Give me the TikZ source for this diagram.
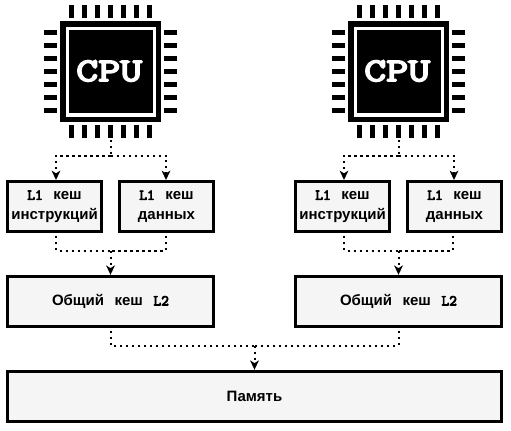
\documentclass[tikz,border=0pt]{standalone}
\usepackage{fontspec}
\setmainfont{Liberation Sans}
\newfontfamily\slab[FakeBold=5]{Latin Modern Mono}
\newfontfamily\slabcpu[FakeBold=4.5]{Latin Modern Mono}
\usetikzlibrary{arrows.meta}
\tikzset{x=0.75pt,y=-0.75pt,
 box/.style={draw=black,line width=2.25pt,fill=black!4,minimum height=37.5pt,inner sep=0pt,align=center,font=\fontsize{11.25pt}{14.5pt}\selectfont\bfseries},
 l1/.style={box,minimum width=70.5pt},
 l2/.style={box,minimum width=154.5pt},
 link/.style={draw=black,line width=1.5pt,dash pattern=on 1.7pt off 2.8pt},
 arr/.style={link,-{Stealth[length=7pt,width=6.5pt,inset=2pt]}},
 pin/.style={fill=black},
}
\newcommand{\gp}{\hspace{7.9pt}}
\newcommand{\mm}[1]{{\slab #1}}
\newcommand{\chip}[2]{%
 \fill[black] (#1+60,21) rectangle (#1+160.7,121.7);
 \draw[white,line width=2.5pt] (#1+67.4,28.7) rectangle (#1+154.3,115);
 \node[text=white,font=\fontsize{25pt}{25pt}\selectfont\slabcpu,inner sep=0pt,xscale=1.28,transform shape] (#2) at (#1+109.2,71) {CPU};
 \foreach \k in {0,...,6}{
  \fill[pin] (#1+69+13*\k,5) rectangle +(5,13);
  \fill[pin] (#1+69+13*\k,125) rectangle +(5,13);
  \fill[pin] (#1+44,30+13*\k) rectangle +(13,4.6);
  \fill[pin] (#1+164,30+13*\k) rectangle +(13,4.6);
 }
 \coordinate (#2b) at (#1+110.5,140);
}
\begin{document}
\begin{tikzpicture}
\useasboundingbox (0,0) rectangle (511,430);
\fill[white] (0,0) rectangle (511,430);
\chip{0}{cpua}
\chip{288}{cpub}
\node[l1] (ia) at (54.5,206.3) {\mm{L1}\gp кеш\\инструкций};
\node[l1] (da) at (166.5,206.3) {\mm{L1}\gp кеш\\данных};
\node[l1] (ib) at (342.5,206.3) {\mm{L1}\gp кеш\\инструкций};
\node[l1] (db) at (454.5,206.3) {\mm{L1}\gp кеш\\данных};
\node[l2] (la) at (110.5,301.3) {Общий\gp кеш\gp\mm{L2}};
\node[l2] (lb) at (398.5,301.3) {Общий\gp кеш\gp\mm{L2}};
\node[box,minimum width=370.5pt] (mem) at (254.5,396.3) {Память};
\coordinate (ta) at (110.5,155.5);
\coordinate (tb) at (398.5,155.5);
\coordinate (ma) at (110.5,250.5);
\coordinate (mb) at (398.5,250.5);
\coordinate (mm) at (254.5,345.5);
% CPU to L1
\draw[link] (cpuab) -- (ta);
\draw[arr] (ta) -| (56,180);
\draw[arr] (ta) -| (166,180);
\draw[link] (cpubb) -- (tb);
\draw[arr] (tb) -| (344,180);
\draw[arr] (tb) -| (454,180);
% L1 to L2
\draw[link] (56,236) |- (ma);
\draw[link] (166,236) |- (ma);
\draw[arr] (ma) -- (la.north);
\draw[link] (344,236) |- (mb);
\draw[link] (453,236) |- (mb);
\draw[arr] (mb) -- (lb.north);
% L2 to mem
\draw[link] (110.5,331) |- (mm);
\draw[link] (398.5,331) |- (mm);
\draw[arr] (mm) -- (mem.north);
\end{tikzpicture}
\end{document}
